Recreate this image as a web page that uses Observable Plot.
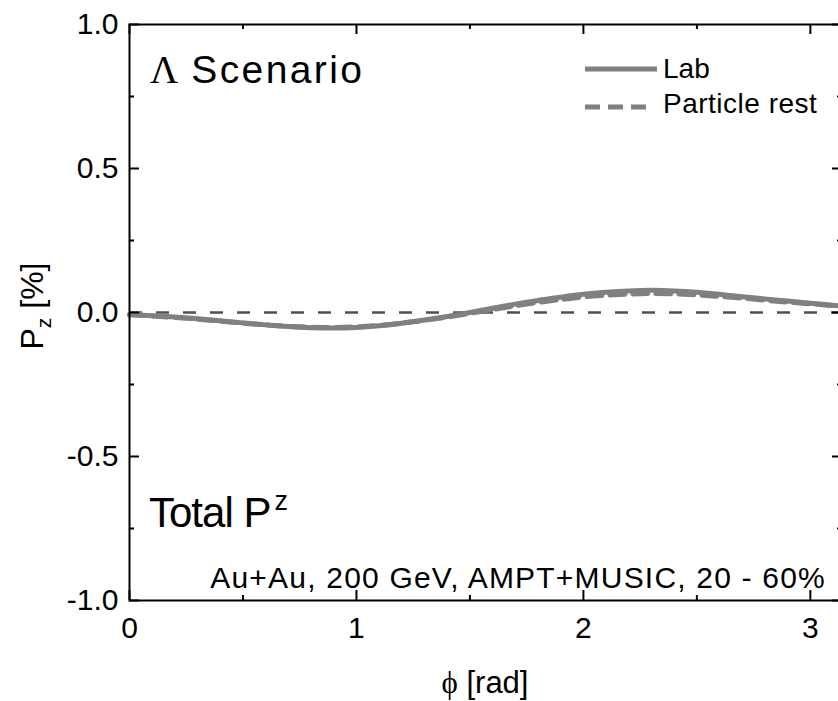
<!DOCTYPE html>
<html><head><meta charset="utf-8">
<script src="https://cdn.jsdelivr.net/npm/d3@7"></script>
<script src="https://cdn.jsdelivr.net/npm/@observablehq/plot@0.6"></script>
<style>html,body{margin:0;padding:0;background:#fff;overflow:hidden}</style>
</head><body><div id="chart"></div>
<script>
const phi    = [0, 0.1, 0.2, 0.3, 0.4, 0.5, 0.6, 0.7, 0.8, 0.9, 1.0, 1.1, 1.2, 1.3, 1.4, 1.5, 1.6, 1.7, 1.8, 1.9, 2.0, 2.1, 2.2, 2.3, 2.4, 2.5, 2.6, 2.7, 2.8, 2.9, 3.0, 3.1, 3.1416];
const labPz  = [-0.007, -0.011, -0.016, -0.022, -0.029, -0.036, -0.043, -0.049, -0.053, -0.054, -0.052, -0.046, -0.037, -0.026, -0.014, 0.000, 0.015, 0.029, 0.042, 0.053, 0.063, 0.070, 0.075, 0.077, 0.075, 0.070, 0.063, 0.055, 0.047, 0.040, 0.032, 0.025, 0.023];
const restPz = [-0.008, -0.012, -0.017, -0.023, -0.030, -0.037, -0.043, -0.048, -0.051, -0.052, -0.050, -0.045, -0.037, -0.027, -0.016, -0.003, 0.010, 0.023, 0.035, 0.045, 0.054, 0.060, 0.064, 0.066, 0.065, 0.061, 0.056, 0.050, 0.043, 0.036, 0.030, 0.024, 0.022];
const seriesNames = ["Lab", "Particle rest"];
const xMajorTicks = [0, 1, 2, 3];
const xMinorTicks = [0.5, 1.5, 2.5];
const yMajorTicks = [-1, -0.5, 0, 0.5, 1];
const yMinorTicks = [-0.75, -0.25, 0.25, 0.75];

const W = 838, H = 701, mL = 129, mR = -4, mT = 24, mB = 101;
const iw = W - mL - mR, ih = H - mT - mB;
const lab = phi.map((p, i) => ({phi: p, pz: labPz[i]}));
const rest = phi.map((p, i) => ({phi: p, pz: restPz[i]}));
const FONT = "'Liberation Sans', Arial, sans-serif";
const SERIF = "'Liberation Serif', 'Times New Roman', serif";
const GREY = "#808080";

const chart = Plot.plot({
  width: W, height: H,
  marginLeft: mL, marginRight: mR, marginTop: mT, marginBottom: mB,
  style: {fontFamily: FONT, fontSize: "30px", color: "#000", background: "#fff", overflow: "hidden"},
  x: {domain: [0, Math.PI]},
  y: {domain: [-1, 1]},
  marks: [
    Plot.ruleY([0], {stroke: "#505050", strokeWidth: 2.5, strokeDasharray: "13,14"}),
    Plot.line(rest, {x: "phi", y: "pz", stroke: GREY, strokeWidth: 5, strokeDasharray: "15,8", curve: "natural"}),
    Plot.line(lab, {x: "phi", y: "pz", stroke: GREY, strokeWidth: 5, curve: "natural"}),
    Plot.ruleX(xMajorTicks, {stroke: "#000", strokeWidth: 2, insetTop: ih - 10}),
    Plot.ruleX(xMajorTicks, {stroke: "#000", strokeWidth: 2, insetBottom: ih - 10}),
    Plot.ruleX(xMinorTicks, {stroke: "#000", strokeWidth: 2, insetTop: ih - 5}),
    Plot.ruleX(xMinorTicks, {stroke: "#000", strokeWidth: 2, insetBottom: ih - 5}),
    Plot.ruleY(yMajorTicks, {stroke: "#000", strokeWidth: 2, insetRight: iw - 10}),
    Plot.ruleY(yMajorTicks, {stroke: "#000", strokeWidth: 2, insetLeft: iw - 10}),
    Plot.ruleY(yMinorTicks, {stroke: "#000", strokeWidth: 2, insetRight: iw - 5}),
    Plot.ruleY(yMinorTicks, {stroke: "#000", strokeWidth: 2, insetLeft: iw - 5}),
    Plot.axisX({ticks: xMajorTicks, tickSize: 0, tickPadding: 16, label: null, tickFormat: d => String(d), fontSize: 30}),
    Plot.axisY({ticks: yMajorTicks, tickSize: 0, tickPadding: 11, label: null, tickFormat: d => d.toFixed(1), fontSize: 30}),
    Plot.frame({stroke: "#000", strokeWidth: 2})
  ]
});
document.getElementById("chart").appendChild(chart);

const svg = d3.select(chart);
const g = svg.append("g").attr("font-family", FONT).attr("fill", "#000").attr("text-anchor", "start");

// Legend
g.append("line").attr("x1", 585).attr("x2", 657).attr("y1", 69).attr("y2", 69)
  .attr("stroke", GREY).attr("stroke-width", 5);
g.append("line").attr("x1", 585).attr("x2", 648).attr("y1", 107).attr("y2", 107)
  .attr("stroke", GREY).attr("stroke-width", 5).attr("stroke-dasharray", "15,8");
g.append("text").attr("x", 663).attr("y", 78).attr("font-size", 28).attr("text-anchor", "start").text(seriesNames[0]);
g.append("text").attr("x", 663).attr("y", 113).attr("font-size", 28).attr("text-anchor", "start").attr("letter-spacing", 0.5).text(seriesNames[1]);

// Scenario label
const sc = g.append("text").attr("x", 150).attr("y", 83).attr("font-size", 39).attr("text-anchor", "start");
sc.append("tspan").attr("font-family", SERIF).text("Λ");
sc.append("tspan").attr("dx", 13).attr("letter-spacing", 2.4).text("Scenario");

// Total P^z
const tp = g.append("text").attr("x", 149).attr("y", 527).attr("font-size", 42).attr("text-anchor", "start");
tp.append("tspan").attr("letter-spacing", -1).text("Total P");
tp.append("tspan").attr("font-size", 27).attr("dx", 4).attr("dy", -17).text("z");

// Collision info
g.append("text").attr("x", 826).attr("y", 588).attr("font-size", 30).attr("text-anchor", "end")
  .attr("letter-spacing", 1.2).text("Au+Au, 200 GeV, AMPT+MUSIC, 20 - 60%");

// X axis title
const xt = g.append("text").attr("x", 485).attr("y", 693).attr("font-size", 31).attr("text-anchor", "middle");
xt.append("tspan").attr("font-family", SERIF).text("ϕ");
xt.append("tspan").text(" [rad]");

// Y axis title
const yt = g.append("text").attr("transform", "translate(43,306) rotate(-90)").attr("font-size", 32).attr("text-anchor", "middle");
yt.append("tspan").text("P");
yt.append("tspan").attr("font-size", 21).attr("dy", 8).text("z");
yt.append("tspan").attr("dy", -8).text(" [%]");
</script>
</body></html>
